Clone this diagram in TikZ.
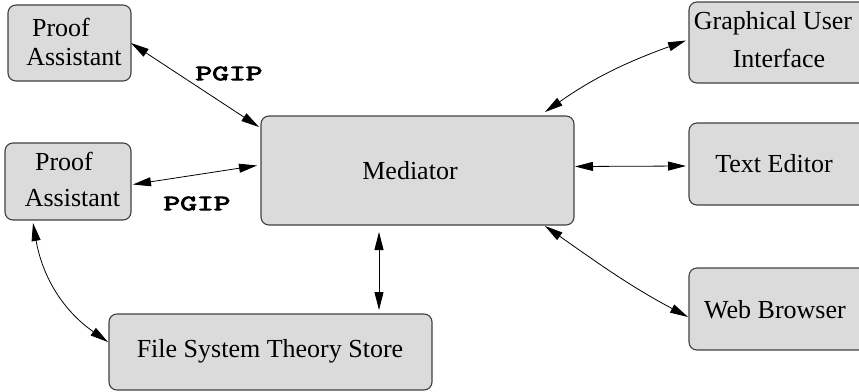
\documentclass[tikz,border=0pt]{standalone}
\usepackage{fontspec}
\setmainfont{Liberation Serif}
\newfontfamily\pgipfont[FakeBold=3]{lmmono10-regular.otf}
\usetikzlibrary{arrows.meta,calc}
\begin{document}
\begin{tikzpicture}[x=1pt,y=-1pt,
  box/.style={draw=black!75, fill=black!14, line width=1.1pt, rounded corners=8pt, inner sep=0pt, outer sep=0pt},
  lbl/.style={font=\fontsize{26}{29}\selectfont, anchor=base, inner sep=0pt},
  proto/.style={font=\pgipfont\fontsize{22}{24}\selectfont, inner sep=0pt, xscale=1.45, transform shape},
  link/.style={line width=0.8pt, {Triangle[length=18pt,width=9pt]}-{Triangle[length=18pt,width=9pt]}}]
\useasboundingbox (0,0) rectangle (859,391);
% boxes
\node[box, minimum width=123pt, minimum height=76pt] (pa1) at (69.5,43) {};
\node[box, minimum width=126pt, minimum height=77pt] (pa2) at (68,181.5) {};
\node[box, minimum width=313pt, minimum height=109pt] (med) at (417.5,170.5) {};
\node[box, minimum width=181pt, minimum height=81pt] (gui) at (779.5,42.5) {};
\node[box, minimum width=181pt, minimum height=82pt] (te) at (779.5,164) {};
\node[box, minimum width=181pt, minimum height=82pt] (wb) at (779.5,309) {};
\node[box, minimum width=323pt, minimum height=76pt] (fs) at (270.5,352) {};
% texts
\node[lbl] (pa1a) at (61,36) {Proof};
\node[lbl] (pa1b) at (74,65) {Assistant};
\node[lbl] (pa2a) at (64,170) {Proof};
\node[lbl] (pa2b) at (72.5,206) {Assistant};
\node[lbl] (guia) at (773,29) {Graphical User};
\node[lbl] (guib) at (779,67) {Interface};
\node[lbl] (tet) at (774,172) {Text Editor};
\node[lbl] (wbt) at (775,318) {Web Browser};
\node[lbl] (medt) at (410,179) {Mediator};
\node[lbl] (fst) at (270,357) {File System Theory Store};
\node[proto] (pgip1) at (229,73.5) {PGIP};
\node[proto] (pgip2) at (197,203.5) {PGIP};
% connectors
\draw[link] (pa1.east) -- ($(med.north west)+(-2,11)$);
\draw[link] ($(pa2.east)+(2,3)$) -- ($(med.west)+(-4,-5)$);
\draw[link] ($(med.north east)+(-29,-4)$) to[out=35,in=200] ($(gui.west)+(-3,-2)$);
\draw[link] ($(med.east)+(1,-4)$) -- ($(te.west)+(-3,2)$);
\draw[link] ($(med.south east)+(-29,1)$) to[out=-35,in=152] ($(wb.west)+(-1,8)$);
\draw[link] ($(med.south west)+(118,7)$) -- ($(fs.north west)+(270,-4)$);
\draw[link] ($(pa2.south west)+(28,3)$) to[out=-80,in=145] ($(fs.west)+(-1,-10)$);
\end{tikzpicture}
\end{document}
